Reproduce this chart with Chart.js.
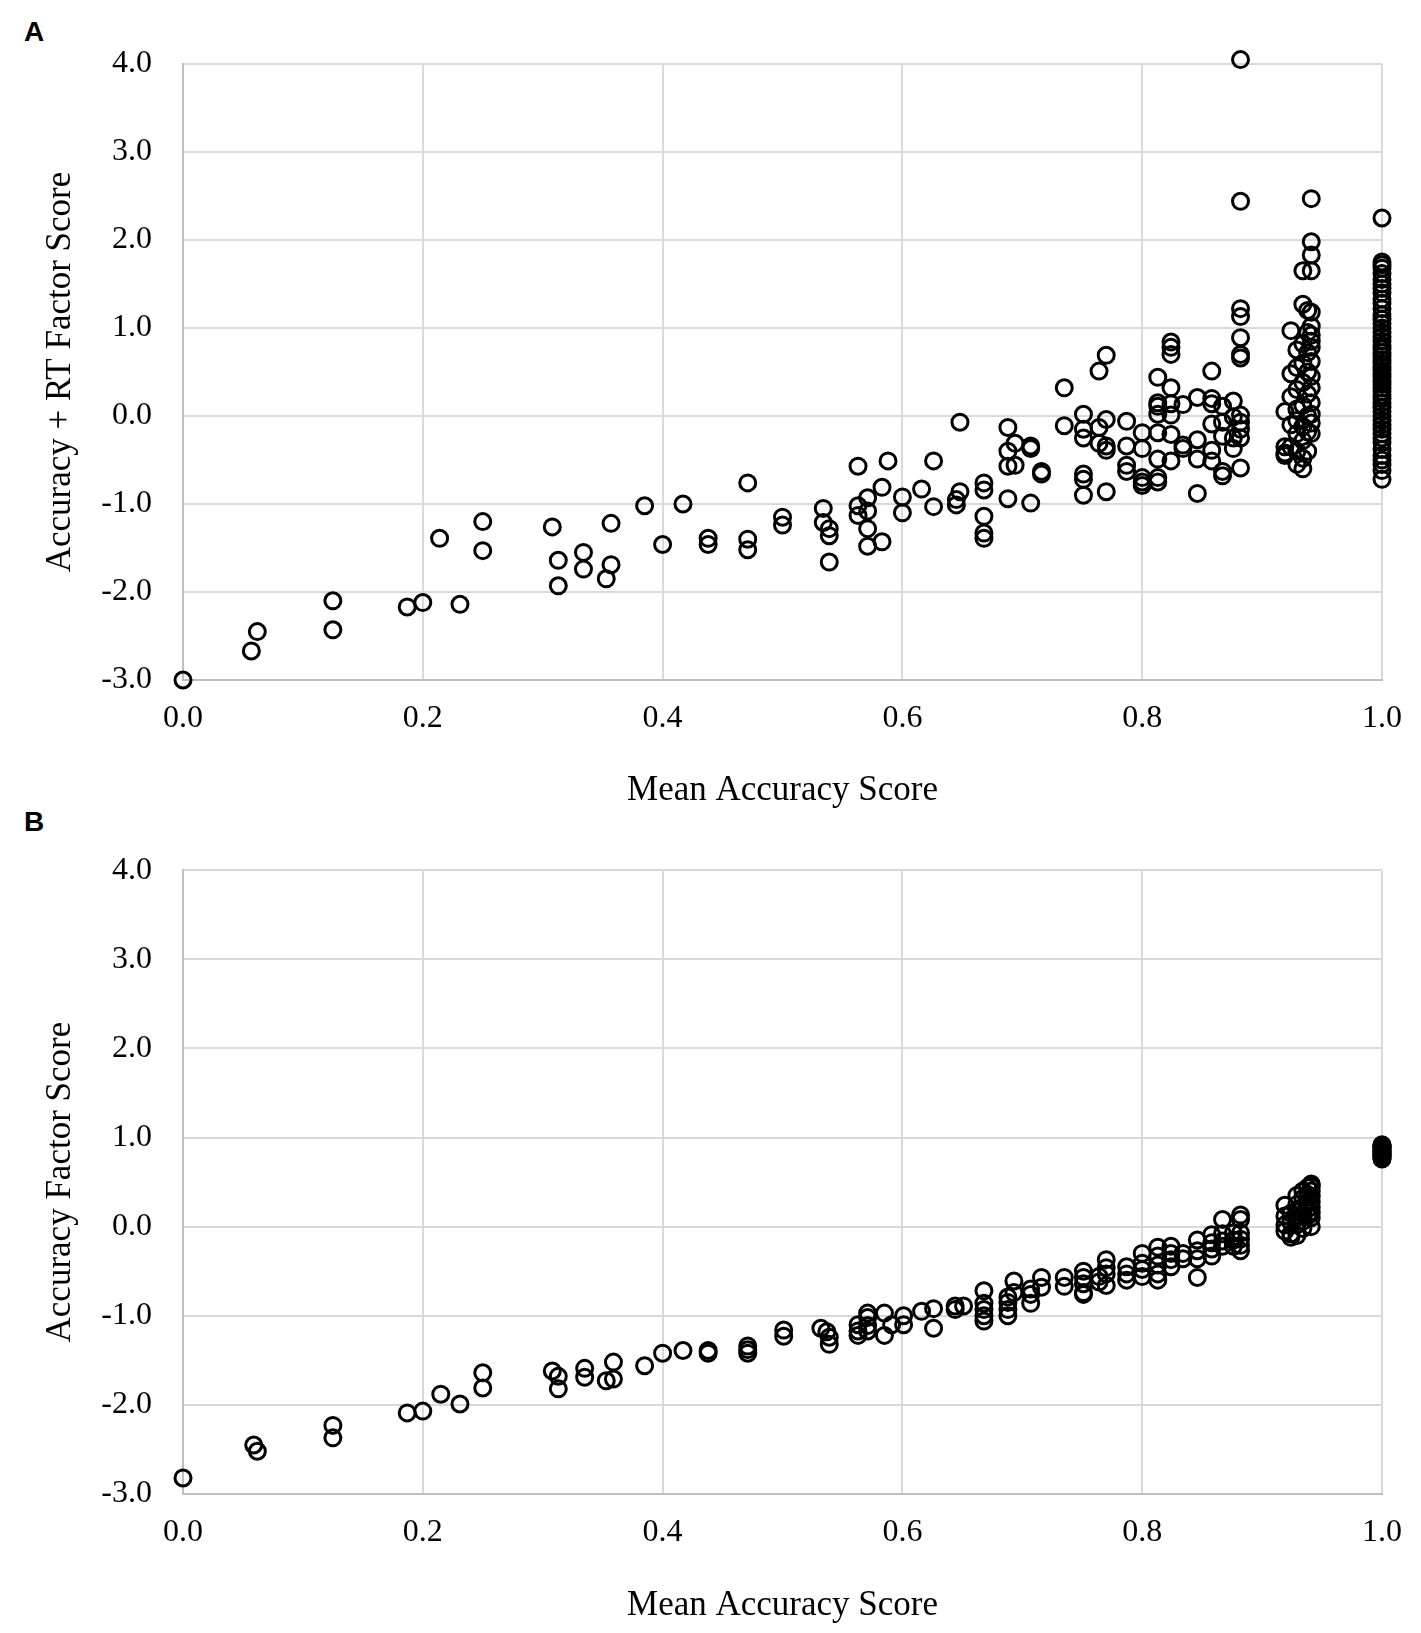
<!DOCTYPE html>
<html>
<head>
<meta charset="utf-8">
<script src="https://cdn.jsdelivr.net/npm/chart.js@4/dist/chart.umd.min.js"></script>
<style>
	body { margin: 0; background: #fff; width: 1421px; height: 1633px; position: relative; overflow: hidden; }
	canvas { position: absolute; left: 0; }
	#chartA { top: 0; }
	#chartB { top: 820px; }
	.panel { position: absolute; left: 24px; font: bold 28px "Liberation Sans", Arial, sans-serif; color: #000; }
</style>
</head>
<body>
<div class="panel" style="top: 16px;">A</div>
<div class="panel" style="top: 806px;">B</div>
<canvas id="chartA" width="1421" height="820"></canvas>
<canvas id="chartB" width="1421" height="813"></canvas>
<script>
// Mean accuracy (x) and the factor scores read at each x (y), panel A
const accuracyA = [0.000, 0.057, 0.062, 0.125, 0.187, 0.200, 0.214, 0.231, 0.250, 0.308, 0.313, 0.334, 0.353, 0.357, 0.385, 0.400, 0.417, 0.438, 0.471, 0.500,
	0.534, 0.539, 0.563, 0.571, 0.583, 0.588, 0.600, 0.616, 0.626, 0.645, 0.648, 0.668, 0.688, 0.694, 0.707, 0.716, 0.735, 0.751, 0.764, 0.770,
	0.787, 0.800, 0.813, 0.824, 0.834, 0.846, 0.858, 0.867, 0.876, 0.882, 0.919, 0.924, 0.929, 0.934, 0.938, 0.941, 1.000];
const factorA = [
	[-3.00], [-2.67], [-2.45], [-2.10, -2.43], [-2.17], [-2.12], [-1.39], [-2.14], [-1.20, -1.53], [-1.26],
	[-1.64, -1.93], [-1.55, -1.74], [-1.85], [-1.22, -1.69], [-1.02], [-1.46], [-1.00], [-1.39, -1.46], [-0.76, -1.40, -1.52], [-1.15, -1.24],
	[-1.05, -1.21], [-1.28, -1.36, -1.66], [-0.57, -1.02, -1.13], [-0.93, -1.08, -1.28, -1.48], [-0.81, -1.43], [-0.51], [-0.92, -1.10], [-0.83], [-0.51, -1.03], [-0.95, -1.01],
	[-0.07, -0.86], [-0.76, -0.84, -1.14, -1.33, -1.39], [-0.13, -0.40, -0.57, -0.94], [-0.31, -0.56], [-0.34, -0.37, -0.99], [-0.63, -0.66], [0.32, -0.11],
	[0.02, -0.15, -0.25, -0.66, -0.72, -0.90], [0.51, -0.13, -0.31], [0.69, -0.04, -0.34, -0.39, -0.86],
	[-0.06, -0.34, -0.56, -0.63], [-0.19, -0.37, -0.70, -0.75, -0.79], [0.44, 0.15, 0.11, 0.02, -0.19, -0.49, -0.70, -0.75],
	[0.84, 0.78, 0.70, 0.32, 0.14, 0.01, -0.21, -0.51], [0.13, -0.33, -0.37], [0.21, -0.27, -0.49, -0.88], [0.51, 0.20, 0.14, -0.09, -0.39, -0.51],
	[0.11, -0.07, -0.23, -0.63, -0.68], [0.17, -0.01, -0.25, -0.37], [4.05, 2.44, 1.22, 1.13, 0.89, 0.70, 0.66, 0.01, -0.07, -0.15, -0.25, -0.59],
	[0.05, -0.35, -0.42, -0.45], [0.97, 0.48, 0.22, -0.10, -0.35], [0.75, 0.55, 0.30, 0.08, -0.05, -0.20, -0.40, -0.55],
	[1.65, 1.27, 0.82, 0.60, 0.38, 0.12, -0.12, -0.28, -0.48, -0.60], [1.20, 0.95, 0.72, 0.50, 0.25, 0.00, -0.18, -0.40],
	[2.47, 1.98, 1.83, 1.65, 1.18, 1.02, 0.92, 0.85, 0.78, 0.62, 0.45, 0.32, 0.15, 0.02, -0.08, -0.20],
	[2.25, 1.75, 1.72, 1.68, 1.62, 1.55, 1.50, 1.45, 1.40, 1.33, 1.28, 1.22, 1.15, 1.10, 1.05, 1.00, 0.95, 0.90, 0.85, 0.80, 0.76, 0.72, 0.68, 0.64, 0.60,
		0.56, 0.52, 0.48, 0.44, 0.40, 0.36, 0.32, 0.28, 0.24, 0.20, 0.15, 0.10, 0.05, 0.00, -0.05, -0.10, -0.15, -0.20, -0.25, -0.30, -0.38, -0.45, -0.50, -0.55, -0.62, -0.72]
];

// Panel B
const accuracyB = [0.000, 0.059, 0.062, 0.125, 0.187, 0.200, 0.215, 0.231, 0.250, 0.308, 0.313, 0.335, 0.353, 0.359, 0.385, 0.400, 0.417, 0.438, 0.471, 0.501,
	0.532, 0.537, 0.539, 0.563, 0.571, 0.585, 0.591, 0.601, 0.616, 0.626, 0.644, 0.651, 0.668, 0.688, 0.693, 0.707, 0.716, 0.735, 0.751, 0.764,
	0.770, 0.787, 0.800, 0.813, 0.824, 0.834, 0.846, 0.858, 0.867, 0.876, 0.882, 0.919, 0.924, 0.929, 0.934, 0.938, 0.941, 1.000];
const factorB = [
	[-2.82], [-2.45], [-2.52], [-2.23, -2.37], [-2.09], [-2.07], [-1.88], [-1.99], [-1.64, -1.81], [-1.62],
	[-1.68, -1.82], [-1.59, -1.69], [-1.73], [-1.52, -1.71], [-1.56], [-1.42], [-1.39], [-1.39, -1.42], [-1.34, -1.38, -1.42], [-1.16, -1.23],
	[-1.14], [-1.18], [-1.24, -1.32], [-1.10, -1.17, -1.22], [-0.97, -1.02, -1.11, -1.17], [-0.97, -1.22], [-1.10], [-1.00, -1.10], [-0.95], [-0.92, -1.14],
	[-0.89, -0.93], [-0.89], [-0.72, -0.86, -0.93, -1.00, -1.06], [-0.79, -0.85, -0.93, -1.00], [-0.61, -0.74], [-0.70, -0.76, -0.86], [-0.57, -0.68], [-0.57, -0.67],
	[-0.50, -0.57, -0.64, -0.74, -0.76], [-0.56, -0.62],
	[-0.37, -0.46, -0.53, -0.66], [-0.45, -0.53, -0.60], [-0.30, -0.41, -0.48, -0.56], [-0.23, -0.33, -0.43, -0.53, -0.60], [-0.22, -0.30, -0.37, -0.45],
	[-0.30, -0.36], [-0.15, -0.27, -0.36, -0.57], [-0.09, -0.18, -0.25, -0.33], [0.08, -0.08, -0.16, -0.22], [-0.07, -0.15, -0.22],
	[0.13, 0.08, -0.07, -0.14, -0.21, -0.27], [0.24, 0.12, 0.02, -0.05], [0.15, 0.05, -0.08, -0.12], [0.35, 0.25, 0.18, 0.10, 0.02, -0.10],
	[0.40, 0.32, 0.22, 0.14, 0.06, -0.02], [0.44, 0.36, 0.28, 0.20, 0.12], [0.48, 0.45, 0.40, 0.34, 0.28, 0.22, 0.16, 0.10, 0.00],
	[0.92, 0.91, 0.90, 0.89, 0.88, 0.87, 0.86, 0.85, 0.84, 0.83, 0.82, 0.81, 0.80, 0.79, 0.78, 0.77, 0.76]
];

const xTitle = "Mean Accuracy Score";
const yTitleA = "Accuracy + RT Factor Score";
const yTitleB = "Accuracy Factor Score";

const serif = "'Liberation Serif', 'Times New Roman', serif";

function toPoints(xs, ys) {
	const pts = [];
	xs.forEach((x, i) => {
		ys[i].forEach((y) => pts.push({ x: x, y: y }));
	});
	return pts;
}

function makeChart(id, xs, ys, yTitle, pad, xHeight, titlePad) {
	const ctx = document.getElementById(id).getContext('2d');
	return new Chart(ctx, {
		type: 'scatter',
		data: {
			datasets: [{
				data: toPoints(xs, ys),
				pointRadius: 8,
				pointHoverRadius: 8,
				pointBorderWidth: 3,
				borderColor: '#000',
				backgroundColor: 'rgba(0,0,0,0)',
				clip: false
			}]
		},
		options: {
			responsive: false,
			animation: false,
			layout: { padding: pad },
			plugins: { legend: { display: false }, tooltip: { enabled: false } },
			scales: {
				x: {
					type: 'linear',
					min: 0,
					max: 1,
					afterFit: (scale) => { scale.height = xHeight; },
					ticks: {
						stepSize: 0.2,
						padding: 19,
						color: '#000',
						font: { family: serif, size: 32 },
						callback: (v) => v.toFixed(1)
					},
					grid: { color: '#d9d9d9', lineWidth: 2, drawTicks: false },
					border: { color: '#bfbfbf', width: 2 },
					title: {
						display: true,
						text: xTitle,
						color: '#000',
						font: { family: serif, size: 35 },
						padding: { top: 0, bottom: titlePad }
					}
				},
				y: {
					min: -3,
					max: 4,
					afterFit: (scale) => { scale.width = 183; },
					ticks: {
						stepSize: 1,
						padding: 31,
						color: '#000',
						font: { family: serif, size: 32 },
						callback: (v) => v.toFixed(1)
					},
					grid: { color: '#d9d9d9', lineWidth: 2, drawTicks: false },
					border: { color: '#bfbfbf', width: 2 },
					title: {
						display: true,
						text: yTitle,
						color: '#000',
						font: { family: serif, size: 35 },
						padding: { top: 40, bottom: 0 }
					}
				}
			}
		}
	});
}

makeChart('chartA', accuracyA, factorA, yTitleA, { top: 64, right: 35, left: 0, bottom: 0 }, 140, 8);
makeChart('chartB', accuracyB, factorB, yTitleB, { top: 50, right: 35, left: 0, bottom: 0 }, 139, 6);
</script>
</body>
</html>
